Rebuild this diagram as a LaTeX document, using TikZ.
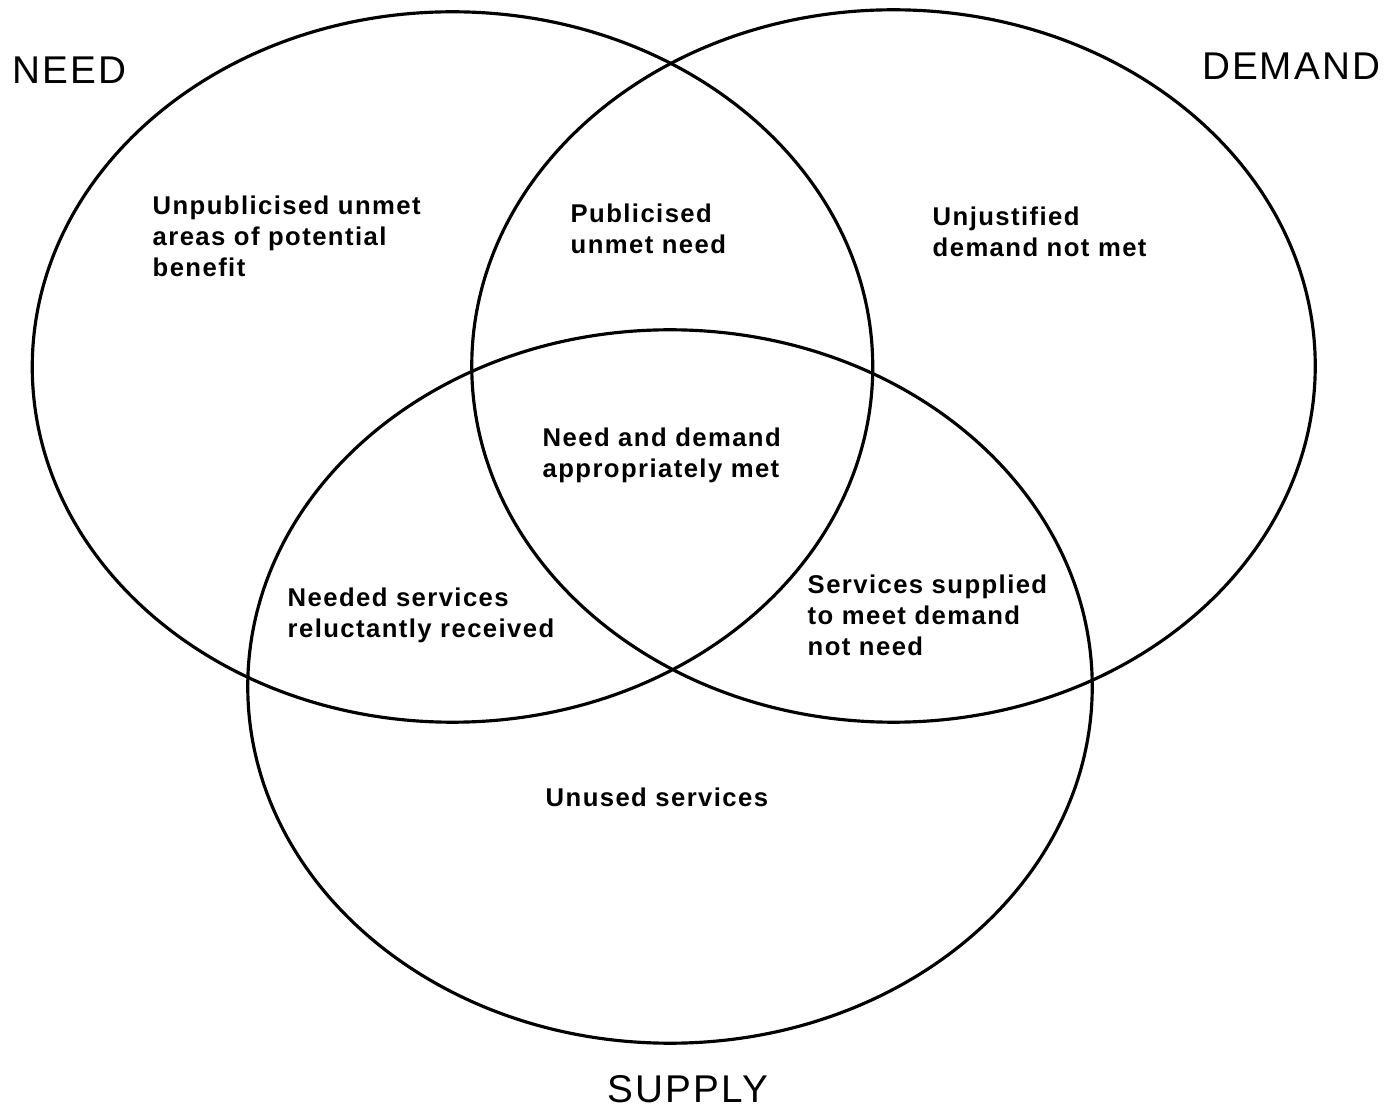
\documentclass[tikz,border=0pt]{standalone}
\usepackage{fontspec}
\setmainfont{Liberation Sans}[LetterSpace=5.5]
\begin{document}
\begin{tikzpicture}[x=0.01cm,y=-0.01cm,
  ring/.style={draw=black,line width=0.9pt},
  region/.style={anchor=north west,inner sep=0pt,align=left,font=\fontsize{7.3pt}{8.8pt}\selectfont\bfseries},
  title/.style={inner sep=0pt,font=\fontsize{11pt}{12pt}\selectfont}]
\useasboundingbox (0,0) rectangle (1385,1110);
\draw[ring] (452.5,367) ellipse [x radius=4.20cm, y radius=3.55cm];
\draw[ring] (893.5,366) ellipse [x radius=4.215cm, y radius=3.56cm];
\draw[ring] (670,686.5) ellipse [x radius=4.22cm, y radius=3.565cm];
\node[title,anchor=north west] (need) at (12,56) {NEED};
\node[title,anchor=north east] (demand) at (1381,52) {DEMAND};
\node[title,anchor=north west] (supply) at (607,1075) {SUPPLY};
\node[region] (unpub) at (152,195) {Unpublicised unmet\\areas of potential\\benefit};
\node[region] (pub) at (570,203) {Publicised\\unmet need};
\node[region] (unjust) at (932,206) {Unjustified\\demand not met};
\node[region] (met) at (542,427) {Need and demand\\appropriately met};
\node[region] (reluct) at (287,587) {Needed services\\reluctantly received};
\node[region] (supplied) at (807,574) {Services supplied\\to meet demand\\not need};
\node[region] (unused) at (545,787) {Unused services};
\end{tikzpicture}
\end{document}
